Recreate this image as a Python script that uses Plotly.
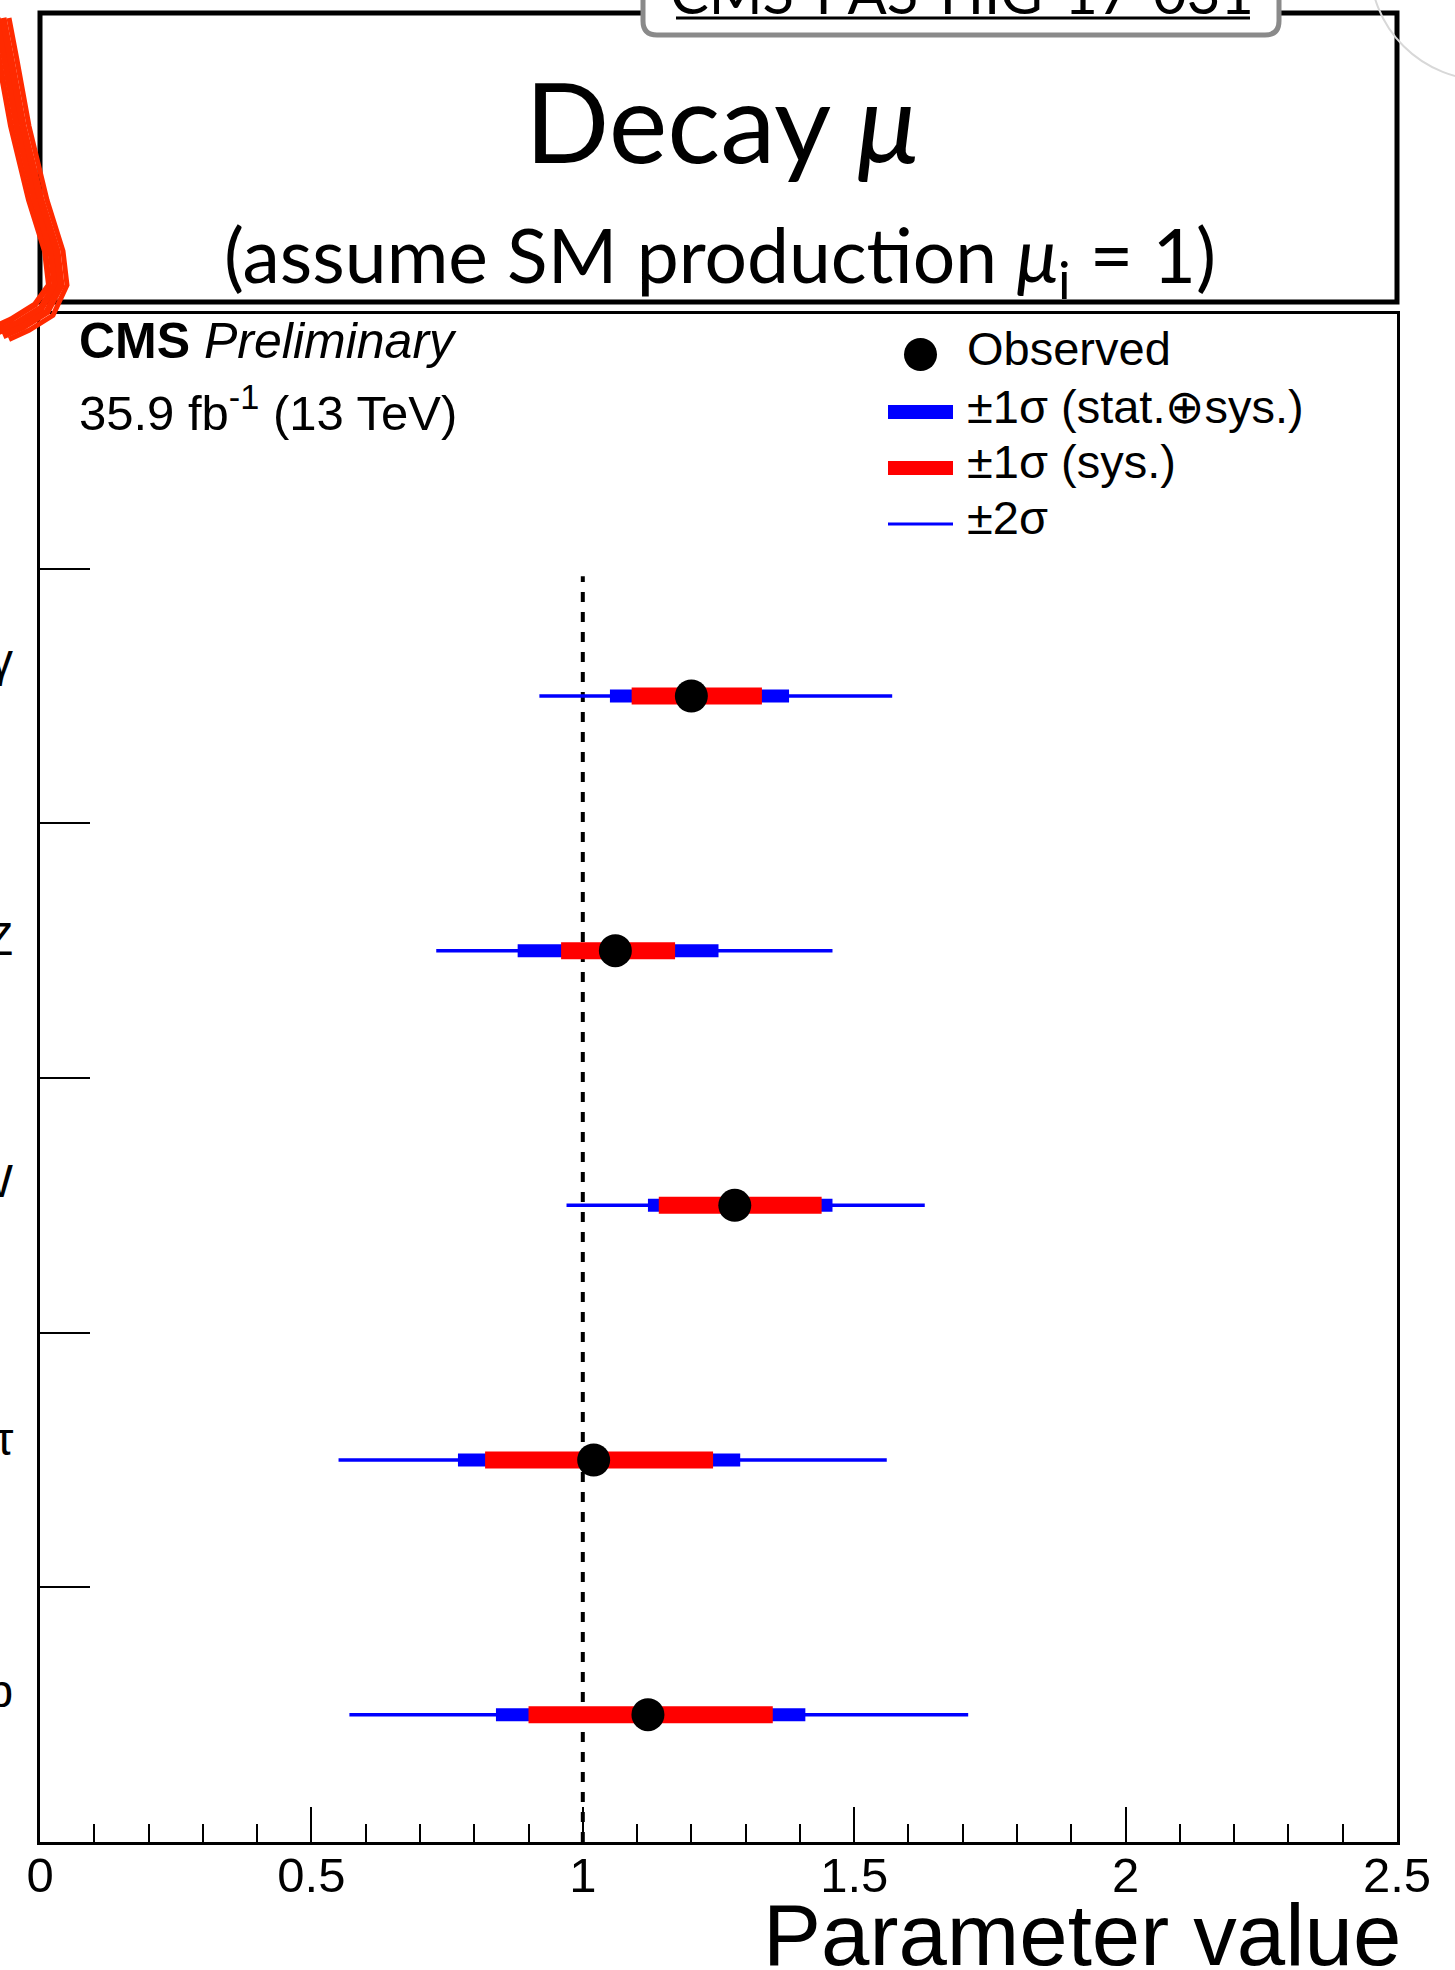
import plotly.graph_objects as go

# ---------------- data (bottom to top) ----------------
channels = ["bb", "ττ", "WW", "ZZ", "γγ"]
observed = [1.12, 1.02, 1.28, 1.06, 1.20]
tot_lo = [0.84, 0.77, 1.12, 0.88, 1.05]
tot_hi = [1.41, 1.29, 1.46, 1.25, 1.38]
sys_lo = [0.90, 0.82, 1.14, 0.96, 1.09]
sys_hi = [1.35, 1.24, 1.44, 1.17, 1.33]
two_lo = [0.57, 0.55, 0.97, 0.73, 0.92]
two_hi = [1.71, 1.56, 1.63, 1.46, 1.57]
x_ticks = [0, 0.5, 1, 1.5, 2, 2.5]
x_tick_labels = ["0", "0.5", "1", "1.5", "2", "2.5"]
sm_value = 1.0

# ---------------- geometry ----------------
W, H = 1455, 1970
L, R, T, B = 40, 1397, 314, 1842


def fx(x):
    return (x - L) / (R - L)


def fy(y):
    return (B - y) / (B - T)


SANS = "Liberation Sans, Arial, Helvetica, sans-serif"
GILL = "Lato, Noto Sans, sans-serif"
BLUE = "#0000ff"
RED = "#ff0000"

ypos = list(range(len(channels)))
label_shift = [24, 21, 24, 12, 36]  # vertical pixel nudges for the cut-off labels


def segs(lo, hi):
    xs, ys = [], []
    for a, b, y in zip(lo, hi, ypos):
        xs += [a, b, None]
        ys += [y, y, None]
    return xs, ys


fig = go.Figure()

# SM reference line
fig.add_trace(go.Scatter(x=[sm_value, sm_value], y=[-0.5, len(channels) - 0.53],
                         mode="lines", line=dict(color="black", width=4, dash="10px,10px"),
                         showlegend=False, hoverinfo="skip"))

x2, y2 = segs(two_lo, two_hi)
fig.add_trace(go.Scatter(x=x2, y=y2, mode="lines", line=dict(color=BLUE, width=3.5),
                         showlegend=False, hoverinfo="skip"))
x1, y1 = segs(tot_lo, tot_hi)
fig.add_trace(go.Scatter(x=x1, y=y1, mode="lines", line=dict(color=BLUE, width=13),
                         showlegend=False, hoverinfo="skip"))
xs, ys = segs(sys_lo, sys_hi)
fig.add_trace(go.Scatter(x=xs, y=ys, mode="lines", line=dict(color=RED, width=17),
                         showlegend=False, hoverinfo="skip"))
fig.add_trace(go.Scatter(x=observed, y=ypos, mode="markers",
                         marker=dict(color="black", size=33, line=dict(width=0)),
                         showlegend=False))

shapes = []
annotations = []

# title box
shapes.append(dict(type="rect", xref="paper", yref="paper",
                   x0=fx(40), x1=fx(1397), y0=fy(302), y1=fy(13),
                   line=dict(color="black", width=5), fillcolor="white", layer="below"))

# CMS-PAS box (rounded, partly cut at top)
x0b, x1b, yb, r = 643, 1279, 35, 14
path = (f"M {fx(x0b)},{fy(-30)} L {fx(x0b)},{fy(yb - r)} "
        f"Q {fx(x0b)},{fy(yb)} {fx(x0b + r)},{fy(yb)} "
        f"L {fx(x1b - r)},{fy(yb)} Q {fx(x1b)},{fy(yb)} {fx(x1b)},{fy(yb - r)} "
        f"L {fx(x1b)},{fy(-30)} Z")
shapes.append(dict(type="path", xref="paper", yref="paper", path=path,
                   line=dict(color="#8a8a8a", width=5), fillcolor="white"))
shapes.append(dict(type="line", xref="paper", yref="paper",
                   x0=fx(676), x1=fx(1250), y0=fy(18), y1=fy(18),
                   line=dict(color="black", width=3)))
annotations.append(dict(text="CMS-PAS-HIG-17-031", xref="paper", yref="paper",
                        x=fx(962), y=fy(28), xanchor="center", yanchor="bottom",
                        showarrow=False, font=dict(family=GILL, size=58, color="black")))

# red scribble at top-left
center = [(0, 18), (8, 60), (20, 126), (38, 200), (54, 251), (58, 285),
          (44, 310), (20, 325), (0, 334)]
for dx, wdt in [(-9, 6), (-3, 7), (3, 7), (9, 5)]:
    pts = [(a + dx, b + (dx * 0.6 if b > 290 else 0)) for a, b in center]
    p = "M " + " L ".join(f"{fx(a)},{fy(b)}" for a, b in pts)
    shapes.append(dict(type="path", xref="paper", yref="paper", path=p,
                       line=dict(color="#ff2a00", width=wdt)))

# faint logo at top-right
shapes.append(dict(type="circle", xref="paper", yref="paper",
                   x0=fx(1370), x1=fx(1600), y0=fy(80), y1=fy(-150),
                   line=dict(color="#d8d8d8", width=2)))

# titles
annotations.append(dict(text="Decay <i>μ</i>", xref="paper", yref="paper",
                        x=fx(722), y=fy(120), xanchor="center", yanchor="middle",
                        showarrow=False, font=dict(family=GILL, size=111, color="black")))
annotations.append(dict(text="(assume SM production <i>μ</i><sub>i</sub> = 1)",
                        xref="paper", yref="paper",
                        x=fx(720), y=fy(260), xanchor="center", yanchor="middle",
                        showarrow=False, font=dict(family=GILL, size=75, color="black")))

# CMS labels
annotations.append(dict(text="<b>CMS</b> <i>Preliminary</i>", xref="paper", yref="paper",
                        x=fx(77), y=fy(341), xanchor="left", yanchor="middle",
                        showarrow=False, font=dict(family=SANS, size=50, color="black")))
annotations.append(dict(text="35.9 fb<sup>-1</sup> (13 TeV)", xref="paper", yref="paper",
                        x=fx(77), y=fy(409), xanchor="left", yanchor="middle",
                        showarrow=False, font=dict(family=SANS, size=49, color="black")))

# legend
leg_rows = [355, 412, 468, 524]
leg_texts = ["Observed", "±1σ (stat.⊕sys.)", "±1σ (sys.)", "±2σ"]
shapes.append(dict(type="circle", xref="paper", yref="paper",
                   x0=fx(904), x1=fx(937), y0=fy(338), y1=fy(371),
                   fillcolor="black", line=dict(width=0)))
shapes.append(dict(type="rect", xref="paper", yref="paper",
                   x0=fx(888), x1=fx(953), y0=fy(419), y1=fy(405),
                   fillcolor=BLUE, line=dict(width=0)))
shapes.append(dict(type="rect", xref="paper", yref="paper",
                   x0=fx(888), x1=fx(953), y0=fy(475), y1=fy(461),
                   fillcolor=RED, line=dict(width=0)))
shapes.append(dict(type="line", xref="paper", yref="paper",
                   x0=fx(888), x1=fx(953), y0=fy(524), y1=fy(524),
                   line=dict(color=BLUE, width=3)))
for t, yy in zip(leg_texts, leg_rows):
    annotations.append(dict(text=t, xref="paper", yref="paper",
                            x=fx(965), y=fy(yy - 6), xanchor="left", yanchor="middle",
                            showarrow=False, font=dict(family=SANS, size=47, color="black")))

# channel labels (cut by the page edge)
for name, yv, sh in zip(channels, ypos, label_shift):
    annotations.append(dict(text=name, xref="paper", yref="y",
                            x=fx(15), y=yv, yshift=sh, xanchor="right", yanchor="middle",
                            showarrow=False, font=dict(family=SANS, size=46, color="black")))

# x axis title
annotations.append(dict(text="Parameter value", xref="paper", yref="paper",
                        x=1.0, y=fy(1934), xshift=6, xanchor="right", yanchor="middle",
                        showarrow=False, font=dict(family=SANS, size=87, color="black")))

fig.update_layout(
    width=W, height=H,
    margin=dict(l=L, r=W - R, t=T, b=H - B, pad=0),
    paper_bgcolor="white", plot_bgcolor="white",
    shapes=shapes, annotations=annotations,
    showlegend=False,
)
fig.update_xaxes(range=[0, 2.5], tickvals=x_ticks, ticktext=x_tick_labels,
                 ticks="inside", ticklen=35, tickwidth=2, tickcolor="black",
                 minor=dict(dtick=0.1, tick0=0, ticks="inside", ticklen=18,
                            tickwidth=2, tickcolor="black", showgrid=False),
                 showline=True, linecolor="black", linewidth=3, mirror=True,
                 showgrid=False, zeroline=False,
                 tickfont=dict(family=SANS, size=49, color="black"),
                 ticklabelstandoff=-12, automargin=False)
fig.update_yaxes(range=[-0.5, len(channels) + 0.5],
                 tickvals=[v + 0.5 for v in ypos], showticklabels=False,
                 ticks="inside", ticklen=50, tickwidth=2, tickcolor="black",
                 showline=True, linecolor="black", linewidth=3, mirror=True,
                 showgrid=False, zeroline=False, automargin=False)

fig.write_html("out.html", config={"displayModeBar": False},
               post_script="document.body.style.margin='0px';document.body.style.overflow='hidden';")
